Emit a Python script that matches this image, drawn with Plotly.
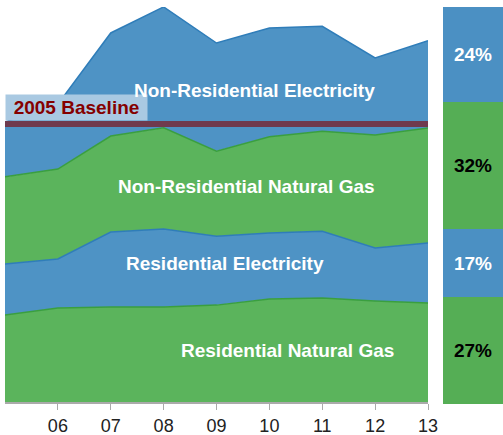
import plotly.graph_objects as go

# ---- data (index, 2005 total = 100) ----
years = [2005, 2006, 2007, 2008, 2009, 2010, 2011, 2012, 2013]
tick_years = [2006, 2007, 2008, 2009, 2010, 2011, 2012, 2013]
tick_labels = ["06", "07", "08", "09", "10", "11", "12", "13"]

res_gas = [31.1, 33.6, 33.9, 33.9, 34.6, 36.8, 37.1, 36.1, 35.4]
res_elec = [18.2, 17.5, 26.8, 27.9, 24.6, 23.6, 23.9, 18.9, 21.4]
nonres_gas = [31.1, 32.1, 34.3, 36.1, 30.4, 34.3, 35.7, 40.4, 41.1]
nonres_elec = [19.6, 23.2, 36.8, 43.2, 38.6, 38.9, 37.5, 27.5, 31.1]

baseline_value = 99.3
baseline_label = "2005 Baseline"

share_labels = ["Residential Natural Gas", "Residential Electricity",
                "Non-Residential Natural Gas", "Non-Residential Electricity"]
share_values = [27, 17, 32, 24]

BLUE = "#4e93c5"
GREEN = "#5bb45c"
BLUE_LINE = "#2f7db9"
GREEN_LINE = "#3a9f3f"
BAR_GREEN = "#55ae55"
BAR_BLUE = "#4b90c3"
FONT = "Liberation Sans, Arial, sans-serif"

fig = go.Figure()

series = [
    ("Residential Natural Gas", res_gas, GREEN, GREEN_LINE),
    ("Residential Electricity", res_elec, BLUE, BLUE_LINE),
    ("Non-Residential Natural Gas", nonres_gas, GREEN, GREEN_LINE),
    ("Non-Residential Electricity", nonres_elec, BLUE, BLUE_LINE),
]
for name, vals, fc, lc in series:
    fig.add_trace(go.Scatter(
        x=years, y=vals, name=name, mode="lines", stackgroup="one",
        fillcolor=fc, line=dict(color=lc, width=1.5),
        hoverinfo="skip", showlegend=False, xaxis="x", yaxis="y",
    ))

bar_colors = [BAR_GREEN, BAR_BLUE, BAR_GREEN, BAR_BLUE]
text_colors = ["black", "white", "black", "white"]
for lab, v, c, tc in zip(share_labels, share_values, bar_colors, text_colors):
    fig.add_trace(go.Bar(
        x=[0], y=[v], name=lab, width=1,
        marker=dict(color=c, line=dict(width=0)),
        text=[f"<b>{v}%</b>"], textposition="inside",
        insidetextanchor="middle", textangle=0,
        textfont=dict(color=tc, size=19, family=FONT),
        hoverinfo="skip", showlegend=False, xaxis="x2", yaxis="y2",
    ))

# baseline line
fig.add_shape(type="line", xref="x", yref="y", x0=years[0], x1=years[-1],
              y0=baseline_value, y1=baseline_value,
              line=dict(color="#6f3a4e", width=6), layer="above")

annotations = [
    dict(x=2005, y=100.36, xref="x", yref="y", xanchor="left", yanchor="bottom",
         text=f"<b>{baseline_label}</b>", showarrow=False,
         font=dict(color="#850000", size=19, family=FONT),
         bgcolor="#a9c9e2", width=141, height=25, borderpad=0, align="center"),
    dict(x=2009.72, y=111.1, text="<b>Non-Residential Electricity</b>"),
    dict(x=2009.57, y=76.8, text="<b>Non-Residential Natural Gas</b>"),
    dict(x=2009.16, y=49.3, text="<b>Residential Electricity</b>"),
    dict(x=2010.35, y=18.4, text="<b>Residential Natural Gas</b>"),
]
for a in annotations[1:]:
    a.update(xref="x", yref="y", showarrow=False,
             font=dict(color="white", size=19, family=FONT))

fig.update_layout(
    template="none",
    width=503, height=435, autosize=False,
    margin=dict(l=5, r=0, t=7, b=31, pad=0),
    paper_bgcolor="white", plot_bgcolor="white",
    barmode="stack", showlegend=False,
    font=dict(family=FONT, size=18, color="#222"),
    annotations=annotations,
    xaxis=dict(domain=[0, 423 / 498], range=[2005, 2013], automargin=False,
               tickvals=tick_years, ticktext=tick_labels,
               ticks="outside", ticklen=6, tickcolor="#aaaaaa", tickwidth=1,
               showline=True, linecolor="#aaaaaa", linewidth=2,
               showgrid=False, zeroline=False, anchor="y",
               tickfont=dict(size=18, color="#222", family=FONT)),
    yaxis=dict(domain=[2 / 397, 1], range=[0, 395 / 2.8], visible=False,
               automargin=False, showgrid=False, zeroline=False),
    xaxis2=dict(domain=[438 / 498, 1], range=[-0.5, 0.5], visible=False,
                automargin=False, showgrid=False, zeroline=False, anchor="y2"),
    yaxis2=dict(domain=[0, 1], range=[0, 100], visible=False,
                automargin=False, showgrid=False, zeroline=False, anchor="x2"),
)

fig.write_html(
    "out.html",
    config={"responsive": False, "displayModeBar": False},
    post_script="document.body.style.margin='0';document.body.style.overflow='hidden';",
)
